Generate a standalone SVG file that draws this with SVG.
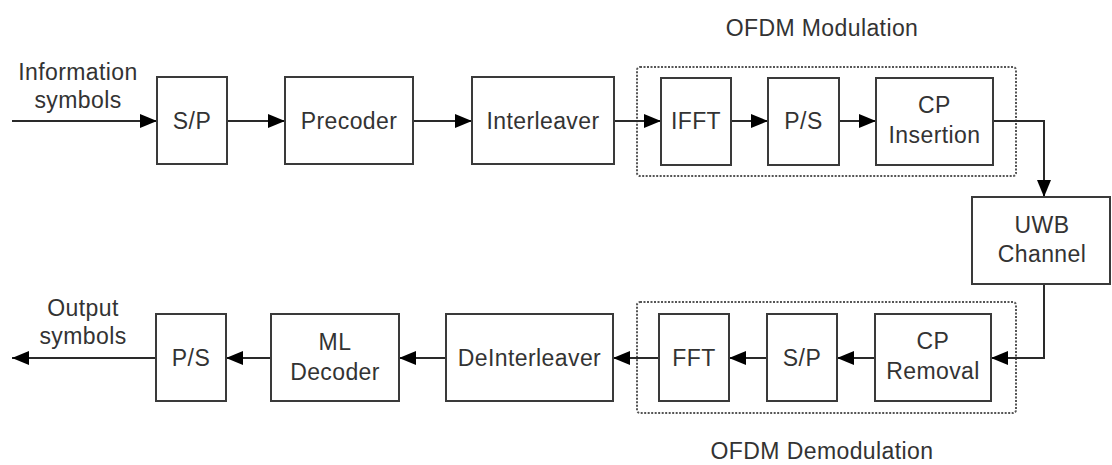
<svg xmlns="http://www.w3.org/2000/svg" width="1112" height="465" viewBox="0 0 1112 465">
<style>
  .box { fill: #ffffff; stroke: #3a3a3a; stroke-width: 2; }
  .grp { fill: none; stroke: #555555; stroke-width: 2; stroke-dasharray: 2 1.5; }
  .t { font-family: "Liberation Sans", Arial, sans-serif; font-size: 23px; fill: #333333; text-anchor: middle; letter-spacing: 0.4px; }
  .c { fill: none; stroke: #2a2a2a; stroke-width: 2; marker-end: url(#ah); }
</style>
<defs>
  <marker id="ah" markerUnits="userSpaceOnUse" markerWidth="18" markerHeight="14" refX="17" refY="7" orient="auto">
    <path d="M0,0 L17,7 L0,14 Z" fill="#000000"/>
  </marker>
</defs>
<rect width="1112" height="465" fill="#ffffff"/>

<g id="ofdm-mod">
  <rect class="grp" x="637" y="67" width="379" height="109" rx="3"/>
  <text class="t" x="822" y="36">OFDM Modulation</text>
</g>
<g id="ofdm-demod">
  <rect class="grp" x="637" y="302" width="379" height="111" rx="3"/>
  <text class="t" x="822" y="459">OFDM Demodulation</text>
</g>

<g id="connectors">
  <path class="c" d="M12,121 H157"/>
  <path class="c" d="M227,121 H285"/>
  <path class="c" d="M413,121 H472"/>
  <path class="c" d="M614,121 H661"/>
  <path class="c" d="M731,121 H768"/>
  <path class="c" d="M839,121 H876"/>
  <path class="c" d="M993,121 H1044 V197"/>
  <path class="c" d="M1044,284 V358 H991"/>
  <path class="c" d="M875,358 H837"/>
  <path class="c" d="M767,358 H729"/>
  <path class="c" d="M659,358 H613"/>
  <path class="c" d="M446,358 H399"/>
  <path class="c" d="M271,358 H226"/>
  <path class="c" d="M156,358 H12"/>
</g>

<g id="input-label">
  <text class="t" x="78" y="80">Information</text>
  <text class="t" x="78" y="108">symbols</text>
</g>
<g id="output-label">
  <text class="t" x="83" y="316">Output</text>
  <text class="t" x="83" y="344">symbols</text>
</g>

<g id="sp1">
  <rect class="box" x="157" y="77" width="70" height="87"/>
  <text class="t" x="192" y="129">S/P</text>
</g>
<g id="precoder">
  <rect class="box" x="285" y="77" width="128" height="87"/>
  <text class="t" x="349" y="129">Precoder</text>
</g>
<g id="interleaver">
  <rect class="box" x="472" y="77" width="142" height="87"/>
  <text class="t" x="543" y="129">Interleaver</text>
</g>
<g id="ifft">
  <rect class="box" x="661" y="78" width="70" height="87"/>
  <text class="t" x="696" y="129">IFFT</text>
</g>
<g id="ps1">
  <rect class="box" x="768" y="78" width="71" height="87"/>
  <text class="t" x="803.5" y="129">P/S</text>
</g>
<g id="cp-insertion">
  <rect class="box" x="876" y="78" width="117" height="87"/>
  <text class="t" x="934.5" y="113">CP</text>
  <text class="t" x="934.5" y="143">Insertion</text>
</g>
<g id="uwb">
  <rect class="box" x="972" y="197" width="138" height="87"/>
  <text class="t" x="1042" y="233">UWB</text>
  <text class="t" x="1042" y="262">Channel</text>
</g>
<g id="cp-removal">
  <rect class="box" x="875" y="314" width="116" height="87"/>
  <text class="t" x="933" y="349">CP</text>
  <text class="t" x="933" y="379">Removal</text>
</g>
<g id="sp2">
  <rect class="box" x="767" y="314" width="70" height="87"/>
  <text class="t" x="802" y="366">S/P</text>
</g>
<g id="fft">
  <rect class="box" x="659" y="314" width="70" height="87"/>
  <text class="t" x="694" y="366">FFT</text>
</g>
<g id="deinterleaver">
  <rect class="box" x="446" y="314" width="167" height="87"/>
  <text class="t" x="529.5" y="366">DeInterleaver</text>
</g>
<g id="ml-decoder">
  <rect class="box" x="271" y="314" width="128" height="87"/>
  <text class="t" x="335" y="350">ML</text>
  <text class="t" x="335" y="380">Decoder</text>
</g>
<g id="ps2">
  <rect class="box" x="156" y="314" width="70" height="87"/>
  <text class="t" x="191" y="366">P/S</text>
</g>
</svg>
